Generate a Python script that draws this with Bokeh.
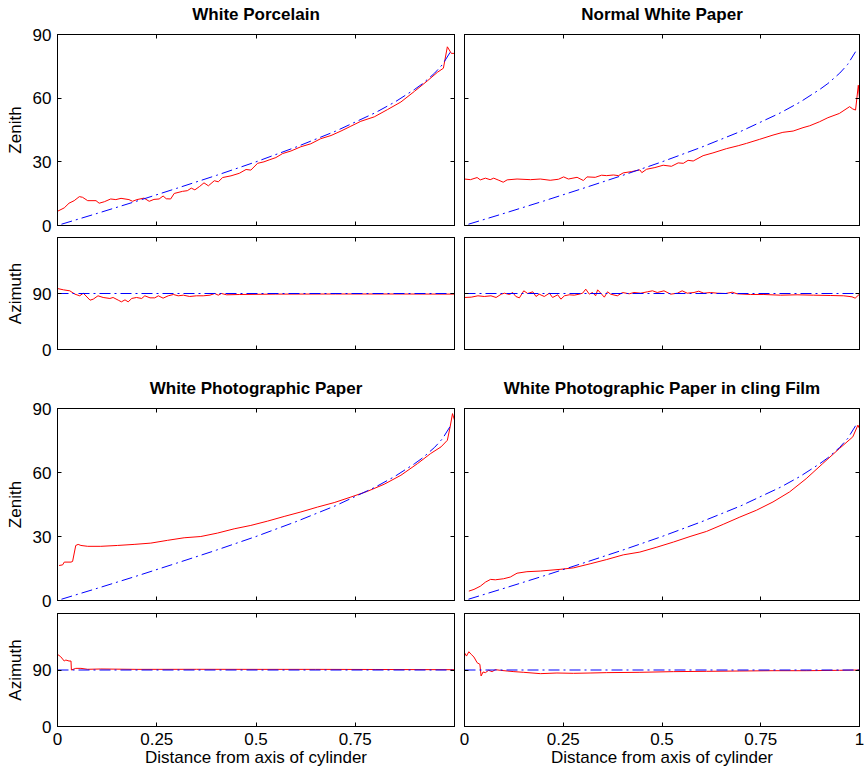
from bokeh.plotting import figure
from bokeh.models import LinearAxis, FixedTicker, Range1d, CustomLabelingPolicy
from bokeh.layouts import column, row
from bokeh.embed import file_html
from bokeh.resources import INLINE

FONT = "Liberation Sans"
FS = "17px"

# ---------------- data ----------------
titles = ["White Porcelain", "Normal White Paper",
          "White Photographic Paper", "White Photographic Paper in cling Film"]

x_ticks = [0, 0.25, 0.5, 0.75, 1]
x_tick_labels = ["0", "0.25", "0.5", "0.75", "1"]
zen_ticks = [0, 30, 60, 90]
az_ticks = [0, 90]

# theoretical (blue dash-dot) curves
theo_x = [0.01, 0.1, 0.2, 0.3, 0.4, 0.5, 0.6, 0.7, 0.8, 0.85, 0.9, 0.92, 0.95, 0.97, 0.99]
theo_zen = [0.6, 5.7, 11.5, 17.5, 23.6, 30.0, 36.9, 44.4, 53.1, 58.2, 64.2, 66.9, 71.8, 75.9, 81.9]
theo_az_x = [0, 1]
theo_az = [90, 90]

# White Porcelain
wp_zen_x = [0, 0.017, 0.029, 0.042, 0.055, 0.063, 0.076, 0.097, 0.105, 0.118, 0.134, 0.147, 0.16,
            0.18, 0.189, 0.2, 0.218, 0.231, 0.243, 0.256, 0.266, 0.274, 0.285, 0.294, 0.315, 0.327,
            0.337, 0.346, 0.358, 0.369, 0.38, 0.395, 0.405, 0.416, 0.437, 0.458, 0.475, 0.487, 0.504,
            0.52, 0.533, 0.55, 0.567, 0.588, 0.613, 0.638, 0.663, 0.689, 0.714, 0.739, 0.764, 0.798,
            0.831, 0.865, 0.899, 0.932, 0.957, 0.972, 0.982, 0.992, 1.0]
wp_zen = [6.7, 8.3, 10.5, 11.7, 13.6, 13.3, 11.7, 11.7, 10.5, 11.2, 12.5, 12.2, 12.8,
          12.2, 11.4, 12.2, 12.9, 11.4, 12.3, 12.5, 13.9, 12.6, 12.5, 15.1, 16.1, 16.4,
          17.6, 16.8, 18.4, 20.1, 18.7, 21.1, 20.6, 22.6, 23.4, 24.6, 26.4, 26.1, 29.3,
          30.0, 30.9, 32.0, 33.9, 35.1, 37.1, 38.5, 40.9, 42.4, 44.5, 46.8, 49.1, 51.2,
          54.6, 58.2, 63.2, 68.2, 72.2, 74.1, 84.2, 81.1, 81.1]
wp_az_x = [0, 0.015, 0.031, 0.044, 0.056, 0.065, 0.082, 0.09, 0.102, 0.115, 0.132, 0.14, 0.153,
           0.161, 0.17, 0.178, 0.187, 0.199, 0.212, 0.22, 0.233, 0.245, 0.254, 0.266, 0.279, 0.292,
           0.304, 0.317, 0.333, 0.35, 0.367, 0.384, 0.396, 0.405, 0.413, 0.426, 0.459, 0.55, 0.7,
           0.85, 1.0]
wp_az = [98.0, 95.9, 94.3, 88.9, 86.3, 90.5, 79.3, 80.9, 86.3, 83.6, 82.0, 83.6, 79.3,
         76.6, 79.8, 76.6, 82.0, 83.6, 82.0, 86.3, 83.0, 83.0, 86.3, 82.5, 86.3, 88.4,
         86.3, 87.3, 85.2, 86.3, 86.3, 87.3, 90.0, 87.3, 90.0, 87.9, 88.4, 89.0, 89.2,
         89.2, 89.0]

# Normal White Paper
nw_zen_x = [0, 0.015, 0.032, 0.04, 0.053, 0.065, 0.074, 0.087, 0.098, 0.108, 0.133, 0.167, 0.192,
            0.217, 0.238, 0.251, 0.263, 0.285, 0.301, 0.31, 0.331, 0.347, 0.36, 0.377, 0.39, 0.402,
            0.423, 0.444, 0.449, 0.461, 0.482, 0.503, 0.524, 0.541, 0.554, 0.566, 0.579, 0.604,
            0.629, 0.663, 0.693, 0.714, 0.747, 0.781, 0.806, 0.832, 0.857, 0.874, 0.899, 0.92,
            0.949, 0.975, 0.983, 0.99, 0.997, 1.0]
nw_zen = [21.9, 21.6, 22.6, 21.5, 22.3, 21.6, 22.3, 21.3, 20.4, 21.5, 21.9, 21.6, 21.9,
          21.3, 21.8, 22.9, 21.9, 22.7, 21.2, 22.9, 22.7, 23.7, 23.5, 23.8, 23.5, 24.8,
          25.4, 26.2, 24.9, 26.5, 27.3, 28.4, 27.9, 29.5, 29.3, 30.7, 30.4, 32.9,
          34.2, 36.2, 37.6, 38.7, 40.6, 42.6, 43.9, 44.5, 46.1, 47.0, 48.9, 50.8,
          52.8, 56.0, 54.9, 54.4, 66.1, 59.9]
nw_az_x = [0, 0.017, 0.034, 0.05, 0.067, 0.08, 0.093, 0.101, 0.114, 0.122, 0.13, 0.139, 0.15,
           0.16, 0.173, 0.181, 0.189, 0.202, 0.215, 0.223, 0.236, 0.244, 0.253, 0.265, 0.278,
           0.29, 0.299, 0.307, 0.316, 0.324, 0.332, 0.337, 0.345, 0.354, 0.362, 0.37, 0.387,
           0.4, 0.417, 0.429, 0.446, 0.463, 0.476, 0.488, 0.505, 0.522, 0.539, 0.551, 0.564,
           0.581, 0.593, 0.606, 0.623, 0.64, 0.661, 0.678, 0.69, 0.724, 0.758, 0.8, 0.842,
           0.884, 0.926, 0.96, 0.981, 0.989, 1.0]
nw_az = [83.6, 84.1, 86.3, 85.2, 86.3, 83.6, 88.9, 90.5, 88.4, 91.6, 85.2, 83.0, 94.3,
         90.0, 92.7, 85.2, 88.9, 85.2, 90.5, 83.6, 87.9, 80.9, 86.3, 87.9, 87.3,
         88.9, 90.5, 97.0, 88.9, 91.6, 86.3, 95.9, 90.5, 84.1, 92.7, 88.9, 86.3,
         91.6, 89.5, 91.6, 90.5, 92.7, 94.3, 91.6, 94.3, 88.9, 90.5, 94.3, 90.5,
         91.6, 93.7, 90.5, 91.6, 90.5, 90.0, 92.1, 89.5, 88.4, 88.4, 87.3, 87.9,
         87.3, 86.8, 86.3, 84.7, 82.5, 88.9]

# White Photographic Paper
ph_zen_x = [0.004, 0.013, 0.017, 0.034, 0.038, 0.046, 0.052, 0.059, 0.076, 0.109, 0.151, 0.193,
            0.235, 0.277, 0.319, 0.361, 0.403, 0.445, 0.487, 0.529, 0.571, 0.613, 0.655, 0.697,
            0.739, 0.781, 0.823, 0.865, 0.907, 0.94, 0.966, 0.982, 0.989, 0.995, 1.0]
ph_zen = [16.4, 16.7, 18.0, 18.0, 18.3, 25.8, 26.3, 25.8, 25.4, 25.4, 25.8, 26.3,
          26.9, 28.2, 29.4, 30.0, 31.6, 33.6, 35.2, 37.2, 39.4, 41.5, 43.8, 45.9,
          48.5, 51.2, 54.5, 58.7, 64.2, 68.9, 72.0, 75.1, 81.4, 87.6, 84.5]
ph_az_x = [0, 0.008, 0.017, 0.021, 0.029, 0.034, 0.035, 0.046, 0.059, 0.076, 0.109, 0.2,
           0.35, 0.5, 0.65, 0.8, 1.0]
ph_az = [114.9, 111.2, 104.3, 105.9, 104.3, 104.3, 90.0, 92.6, 92.6, 91.1, 91.6, 91.0,
         91.1, 91.0, 91.0, 90.8, 90.5]

# White Photographic Paper in cling Film
cf_zen_x = [0.011, 0.024, 0.04, 0.053, 0.066, 0.078, 0.099, 0.116, 0.133, 0.158, 0.192, 0.242,
            0.276, 0.318, 0.36, 0.402, 0.444, 0.487, 0.529, 0.571, 0.613, 0.655, 0.697, 0.739,
            0.781, 0.823, 0.865, 0.907, 0.949, 0.983, 0.996, 1.0]
cf_zen = [4.4, 5.2, 6.7, 8.6, 9.9, 9.7, 10.2, 11.0, 12.8, 13.5, 13.8, 14.6,
          15.3, 17.2, 19.2, 21.4, 22.7, 25.0, 27.4, 30.0, 32.4, 35.7, 39.1, 42.3,
          46.2, 50.9, 57.1, 64.2, 71.2, 76.7, 82.2, 80.6]
cf_az_x = [0, 0.005, 0.011, 0.017, 0.024, 0.032, 0.039, 0.042, 0.047, 0.053, 0.061, 0.07,
           0.078, 0.091, 0.108, 0.125, 0.15, 0.192, 0.234, 0.276, 0.318, 0.36, 0.444, 0.529,
           0.613, 0.697, 0.781, 0.865, 0.949, 1.0]
cf_az = [117.5, 112.2, 119.1, 114.9, 110.6, 101.6, 99.0, 80.5, 86.8, 85.8, 89.5, 87.4,
         90.5, 89.5, 88.4, 87.4, 86.3, 84.2, 85.2, 84.7, 85.2, 85.8, 86.3, 87.4,
         87.9, 88.4, 88.9, 88.9, 89.5, 90.0]

# ---------------- figure construction ----------------
FRAME_W_L = 397
FRAME_W_R = 395


def style_axis(ax, labels):
    ax.major_tick_in = 4
    ax.major_tick_out = 0
    ax.minor_tick_line_color = None
    ax.axis_line_color = "black"
    ax.major_tick_line_color = "black"
    if labels:
        ax.major_label_text_font = FONT
        ax.major_label_text_font_size = FS
        ax.major_label_text_color = "black"
        ax.major_label_standoff = 6
        ax.axis_label_text_font = FONT
        ax.axis_label_text_font_size = FS
        ax.axis_label_text_font_style = "normal"
        ax.axis_label_text_color = "black"
    else:
        ax.major_label_text_font_size = "0px"
        ax.major_label_standoff = 0
        ax.major_label_policy = CustomLabelingPolicy(code="return []")


def panel(kind, side, rx, ry, title=None, top_row=True):
    zen = kind == "zen"
    ymax = 90 if zen else 180
    yt = zen_ticks if zen else az_ticks
    if zen:
        fh = 191 if top_row else 192
        bt, bb = 34, 10
    else:
        fh = 112 if top_row else 113
        bt, bb = (2, 25) if top_row else (3, 44)
    bl = 57 if side == "L" else 5
    fw = FRAME_W_L if side == "L" else FRAME_W_R
    p = figure(frame_width=fw, frame_height=fh,
               x_range=Range1d(0, 1), y_range=Range1d(0, ymax),
               min_border_left=bl, min_border_right=5,
               min_border_top=bt, min_border_bottom=bb,
               toolbar_location=None, output_backend="svg",
               x_axis_type=None, y_axis_type=None, title=title)
    p.grid.visible = False
    p.outline_line_color = "black"
    p.outline_line_width = 1
    p.background_fill_color = "white"
    p.border_fill_color = "white"
    if title:
        p.title.text_font = FONT
        p.title.text_font_size = FS
        p.title.text_font_style = "bold"
        p.title.align = "center"
        p.title.text_color = "black"
        p.title.standoff = 2

    # x axes
    show_x = (not zen) and (not top_row)
    if show_x:
        ticks = x_ticks if side == "R" else x_ticks[:-1]
        xb = LinearAxis(ticker=FixedTicker(ticks=ticks))
        style_axis(xb, True)
        xb.major_label_standoff = 6
        xb.major_label_overrides = {t: l for t, l in zip(x_ticks, x_tick_labels)}
        xb.axis_label = "Distance from axis of cylinder"
        xb.axis_label_standoff = 0
    else:
        xb = LinearAxis(ticker=FixedTicker(ticks=x_ticks))
        style_axis(xb, False)
    p.add_layout(xb, "below")
    xa = LinearAxis(ticker=FixedTicker(ticks=x_ticks))
    style_axis(xa, False)
    p.add_layout(xa, "above")
    if zen:
        # invisible spacer between frame and title
        sp = LinearAxis(ticker=FixedTicker(ticks=x_ticks))
        style_axis(sp, False)
        sp.major_tick_in = 0
        sp.major_tick_out = 10
        sp.major_tick_line_color = None
        sp.axis_line_color = None
        p.add_layout(sp, "above")

    # y axes
    yl = LinearAxis(ticker=FixedTicker(ticks=yt))
    if side == "L":
        style_axis(yl, True)
        yl.axis_label = "Zenith" if zen else "Azimuth"
        yl.axis_label_standoff = 5
    else:
        style_axis(yl, False)
    p.add_layout(yl, "left")
    yr = LinearAxis(ticker=FixedTicker(ticks=yt))
    style_axis(yr, False)
    p.add_layout(yr, "right")

    bx, by = (theo_x, theo_zen) if zen else (theo_az_x, theo_az)
    p.line(rx, ry, line_color="#ff0000", line_width=1)
    p.line(bx, by, line_color="#0000ff", line_width=1, line_dash="11 4 2 4")
    return p


p1z = panel("zen", "L", wp_zen_x, wp_zen, titles[0], True)
p2z = panel("zen", "R", nw_zen_x, nw_zen, titles[1], True)
p1a = panel("az", "L", wp_az_x, wp_az, None, True)
p2a = panel("az", "R", nw_az_x, nw_az, None, True)
p3z = panel("zen", "L", ph_zen_x, ph_zen, titles[2], False)
p4z = panel("zen", "R", cf_zen_x, cf_zen, titles[3], False)
p3a = panel("az", "L", ph_az_x, ph_az, None, False)
p4a = panel("az", "R", cf_az_x, cf_az, None, False)

layout = column(row(p1z, p2z), row(p1a, p2a), row(p3z, p4z), row(p3a, p4a))

open("out.html", "w").write(file_html(layout, INLINE))
